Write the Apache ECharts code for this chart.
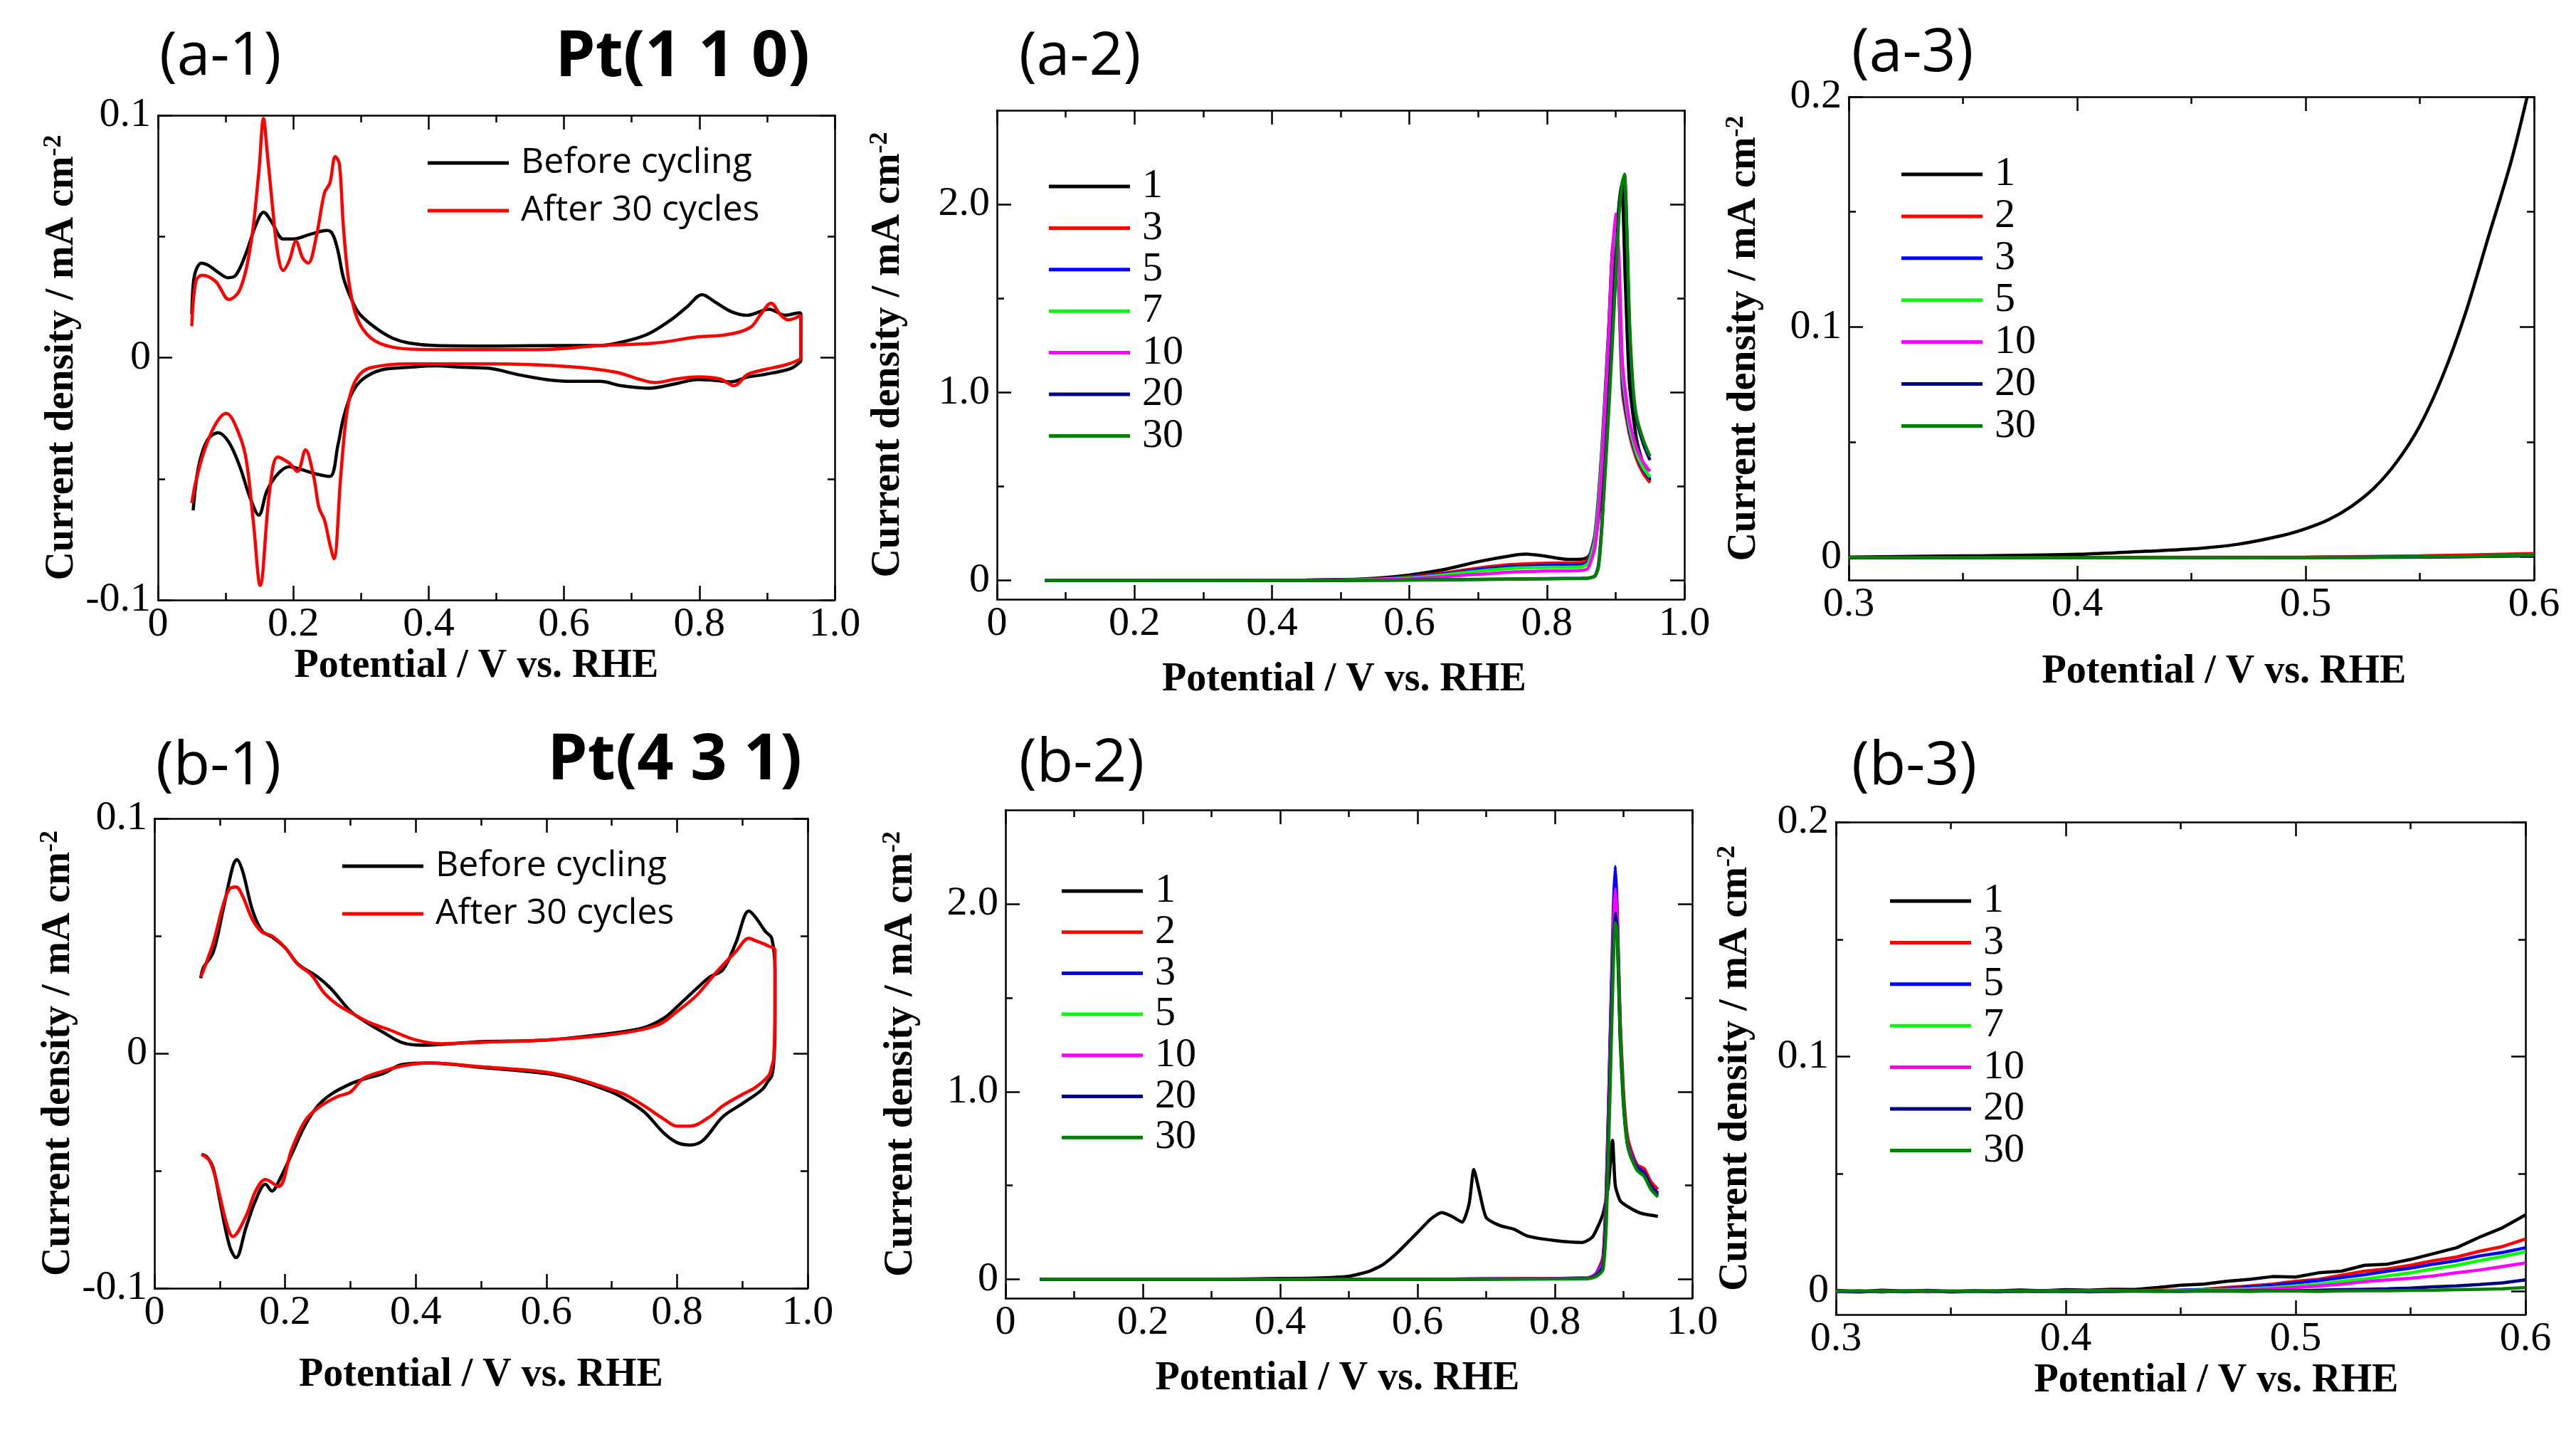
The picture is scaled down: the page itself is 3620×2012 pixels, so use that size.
<!DOCTYPE html>
<html>
<head>
<meta charset="utf-8">
<script src="https://cdn.jsdelivr.net/npm/echarts@6/dist/echarts.min.js"></script>
<style>
  html, body { margin: 0; padding: 0; background: #fff; }
  #chart { width: 3620px; height: 2012px; }
</style>
</head>
<body>
<div id="chart"></div>
<script>
// ---- (a-1) Pt(110) CV ----
var a1BeforeV = [0.05,0.052,0.056,0.064,0.075,0.09,0.103,0.115,0.13,0.145,0.156,0.168,0.185,0.2,0.226,0.25,0.258,0.266,0.274,0.286,0.298,0.323,0.347,0.371,0.41,0.5,0.6,0.653,0.694,0.726,0.758,0.782,0.804,0.823,0.847,0.871,0.903,0.927,0.948,0.95,
  0.95,0.948,0.935,0.895,0.871,0.847,0.823,0.798,0.766,0.726,0.685,0.653,0.613,0.573,0.532,0.492,0.452,0.41,0.371,0.331,0.302,0.286,0.274,0.266,0.254,0.234,0.21,0.194,0.177,0.161,0.149,0.137,0.121,0.105,0.089,0.073,0.06,0.052];
var a1BeforeJ = [0.018,0.03,0.036,0.039,0.038,0.035,0.033,0.034,0.043,0.055,0.060,0.056,0.049,0.049,0.051,0.0525,0.051,0.044,0.033,0.024,0.018,0.012,0.008,0.006,0.005,0.0048,0.005,0.005,0.007,0.010,0.0156,0.021,0.026,0.023,0.019,0.0175,0.020,0.0175,0.0185,0.018,
  -0.001,-0.002,-0.0045,-0.007,-0.008,-0.010,-0.0094,-0.009,-0.0107,-0.0126,-0.0116,-0.0098,-0.0098,-0.009,-0.007,-0.0045,-0.004,-0.0034,-0.004,-0.005,-0.009,-0.015,-0.025,-0.036,-0.049,-0.048,-0.046,-0.045,-0.048,-0.055,-0.065,-0.0585,-0.045,-0.035,-0.031,-0.034,-0.045,-0.063];
var a1AfterV = [0.05,0.056,0.065,0.085,0.105,0.121,0.137,0.149,0.156,0.161,0.169,0.177,0.185,0.194,0.204,0.214,0.222,0.234,0.246,0.254,0.262,0.268,0.274,0.282,0.294,0.315,0.347,0.395,0.5,0.573,0.653,0.734,0.798,0.839,0.875,0.891,0.906,0.919,0.931,0.95,
  0.95,0.944,0.927,0.895,0.871,0.851,0.831,0.798,0.766,0.734,0.71,0.677,0.613,0.492,0.371,0.315,0.298,0.286,0.278,0.27,0.26,0.254,0.246,0.238,0.23,0.218,0.206,0.194,0.177,0.165,0.151,0.141,0.129,0.113,0.101,0.085,0.069,0.056,0.05];
var a1AfterJ = [0.013,0.0315,0.034,0.0315,0.024,0.028,0.0465,0.0765,0.0987,0.086,0.063,0.043,0.036,0.040,0.048,0.041,0.039,0.050,0.068,0.072,0.083,0.080,0.054,0.0315,0.0165,0.008,0.0043,0.0034,0.0033,0.0034,0.005,0.006,0.0086,0.0094,0.0124,0.018,0.0225,0.018,0.0156,0.0175,
  0.0,-0.0013,-0.003,-0.005,-0.007,-0.0116,-0.0088,-0.0079,-0.0088,-0.0103,-0.0088,-0.006,-0.0038,-0.0026,-0.0026,-0.0041,-0.007,-0.0135,-0.025,-0.049,-0.083,-0.077,-0.067,-0.062,-0.049,-0.038,-0.047,-0.0435,-0.041,-0.055,-0.094,-0.068,-0.040,-0.027,-0.023,-0.0275,-0.038,-0.051,-0.060];

// ---- (a-2) Pt(110) cycles ----
var a2V1 = [0.07,0.3,0.45,0.5,0.55,0.6,0.65,0.7,0.75,0.77,0.8,0.83,0.85,0.86,0.87,0.88,0.89,0.9,0.905,0.909,0.914,0.92,0.93,0.94,0.95];
var a2J1 = [0,0,0.002,0.005,0.012,0.029,0.058,0.1,0.133,0.14,0.128,0.112,0.113,0.125,0.2,0.5,1.1,1.75,2.0,2.11,1.6,1.05,0.76,0.62,0.53];
var a2VEarly = [0.07,0.3,0.45,0.5,0.55,0.6,0.65,0.7,0.75,0.8,0.85,0.86,0.87,0.88,0.89,0.895,0.9,0.905,0.91,0.92,0.93,0.94,0.95];
var a2J3 = [0,0,0.001,0.003,0.008,0.02,0.04,0.066,0.085,0.092,0.095,0.11,0.25,0.7,1.35,1.75,1.88,1.5,1.0,0.78,0.65,0.57,0.52];
var a2J5 = [0,0,0.001,0.003,0.007,0.017,0.034,0.058,0.075,0.08,0.082,0.1,0.24,0.68,1.33,1.72,1.86,1.55,1.05,0.8,0.67,0.59,0.54];
var a2J7 = [0,0,0.001,0.002,0.006,0.014,0.03,0.05,0.065,0.07,0.072,0.09,0.22,0.65,1.3,1.7,1.85,1.6,1.1,0.82,0.68,0.6,0.55];
var a2J10 = [0,0,0,0.001,0.004,0.009,0.02,0.033,0.045,0.05,0.053,0.065,0.18,0.6,1.28,1.7,1.95,1.7,1.15,0.85,0.71,0.63,0.58];
var a2VLate = [0.07,0.3,0.45,0.5,0.6,0.7,0.8,0.85,0.86,0.87,0.875,0.88,0.89,0.9,0.905,0.91,0.913,0.917,0.92,0.925,0.93,0.94,0.95];
var a2J20 = [0,0,0,0,0.002,0.006,0.01,0.012,0.013,0.025,0.08,0.3,0.95,1.65,1.98,2.12,2.15,1.75,1.35,1.0,0.86,0.73,0.64];
var a2J30 = [0,0,0,0,0.002,0.005,0.009,0.011,0.012,0.022,0.07,0.28,0.9,1.6,1.95,2.12,2.16,1.8,1.4,1.05,0.88,0.75,0.66];

// ---- (a-3) Pt(110) low potential ----
var a3V1 = [0.3,0.35,0.4,0.43,0.45,0.47,0.49,0.5,0.51,0.52,0.53,0.54,0.55,0.56,0.57,0.58,0.59,0.597];
var a3J1 = [0,0.0005,0.0012,0.0025,0.0035,0.0055,0.0094,0.0123,0.0162,0.022,0.03,0.0415,0.057,0.0786,0.106,0.139,0.172,0.2];
var a3VOther = [0.3,0.4,0.5,0.55,0.6];
var a3J2 = [-0.0003,-0.0002,0,0.0005,0.0015];
var a3J3 = [-0.0003,-0.0003,-0.0002,0.0001,0.0008];
var a3J5 = [-0.0003,-0.0003,-0.0002,0,0.0008];
var a3J10 = [-0.0003,-0.0003,-0.0002,0,0.0006];
var a3J20 = [-0.0003,-0.0003,-0.0002,0,0.0006];
var a3J30 = [-0.0002,-0.0003,-0.0002,0.0001,0.0008];

// ---- (b-1) Pt(431) CV ----
var b1BeforeV = [0.071,0.075,0.09,0.105,0.12,0.126,0.135,0.15,0.165,0.18,0.2,0.22,0.25,0.27,0.3,0.32,0.35,0.38,0.41,0.45,0.5,0.6,0.7,0.75,0.78,0.8,0.83,0.85,0.87,0.89,0.91,0.92,0.935,0.945,0.95,
  0.95,0.948,0.945,0.94,0.93,0.9,0.87,0.84,0.82,0.8,0.78,0.75,0.72,0.7,0.65,0.6,0.5,0.42,0.38,0.35,0.32,0.3,0.27,0.25,0.23,0.21,0.19,0.18,0.17,0.155,0.14,0.125,0.115,0.1,0.09,0.08,0.072];
var b1BeforeJ = [0.032,0.0365,0.043,0.061,0.0796,0.0825,0.0776,0.061,0.052,0.0496,0.045,0.038,0.0325,0.0276,0.018,0.014,0.009,0.0045,0.0035,0.004,0.005,0.0057,0.0086,0.011,0.015,0.0198,0.0276,0.0325,0.0355,0.047,0.0606,0.058,0.052,0.049,0.035,
  0.01,-0.004,-0.0096,-0.0116,-0.0155,-0.0214,-0.027,-0.037,-0.039,-0.038,-0.034,-0.025,-0.0194,-0.0165,-0.0116,-0.0086,-0.006,-0.0041,-0.0047,-0.0086,-0.011,-0.013,-0.0175,-0.0224,-0.031,-0.043,-0.0547,-0.0586,-0.0557,-0.0625,-0.0743,-0.087,-0.082,-0.0625,-0.0488,-0.044,-0.043];
var b1AfterV = [0.071,0.09,0.105,0.115,0.125,0.135,0.15,0.165,0.18,0.2,0.22,0.24,0.26,0.28,0.3,0.33,0.36,0.4,0.44,0.5,0.6,0.7,0.77,0.8,0.83,0.86,0.89,0.91,0.92,0.94,0.95,
  0.95,0.948,0.945,0.94,0.92,0.9,0.87,0.85,0.82,0.8,0.78,0.75,0.72,0.7,0.65,0.6,0.5,0.42,0.38,0.35,0.32,0.3,0.28,0.25,0.23,0.21,0.19,0.17,0.155,0.14,0.12,0.11,0.095,0.085,0.072];
var b1AfterJ = [0.0325,0.047,0.063,0.070,0.0708,0.067,0.057,0.0516,0.050,0.045,0.0378,0.0335,0.0257,0.0208,0.0175,0.013,0.010,0.0057,0.0041,0.0047,0.0057,0.008,0.012,0.0178,0.0247,0.0345,0.0433,0.049,0.048,0.0457,0.044,
  0.02,-0.002,-0.0057,-0.0096,-0.0145,-0.0175,-0.0224,-0.027,-0.031,-0.031,-0.028,-0.0224,-0.0175,-0.0155,-0.011,-0.008,-0.0057,-0.0041,-0.0053,-0.0076,-0.0106,-0.0165,-0.0184,-0.0233,-0.029,-0.041,-0.0567,-0.0537,-0.0586,-0.0694,-0.078,-0.072,-0.0547,-0.046,-0.043];

// ---- (b-2) Pt(431) cycles ----
var b2V1 = [0.05,0.3,0.4,0.45,0.5,0.53,0.55,0.57,0.6,0.62,0.635,0.65,0.665,0.675,0.682,0.69,0.7,0.72,0.74,0.76,0.8,0.84,0.855,0.87,0.878,0.884,0.888,0.895,0.905,0.92,0.93,0.95];
var b2J1 = [0,0,0.005,0.007,0.017,0.044,0.08,0.14,0.25,0.324,0.356,0.336,0.305,0.4,0.585,0.47,0.33,0.287,0.268,0.231,0.207,0.197,0.227,0.348,0.5,0.74,0.5,0.42,0.39,0.36,0.348,0.336];
var b2VOther = [0.05,0.5,0.8,0.85,0.86,0.87,0.875,0.88,0.885,0.888,0.891,0.895,0.9,0.905,0.91,0.92,0.93,0.94,0.95];
var b2J2 = [0,0,0.005,0.01,0.03,0.12,0.5,1.2,1.85,2.05,1.9,1.4,1.0,0.78,0.7,0.61,0.59,0.52,0.48];
var b2J3 = [0,0,0.005,0.01,0.03,0.1,0.45,1.2,1.95,2.2,1.95,1.35,0.95,0.75,0.68,0.6,0.57,0.5,0.46];
var b2J5 = [0,0,0.003,0.008,0.02,0.08,0.4,1.1,1.75,1.93,1.8,1.3,0.92,0.73,0.66,0.58,0.55,0.48,0.44];
var b2J10 = [0,0,0.005,0.01,0.025,0.09,0.42,1.15,1.85,2.08,1.9,1.35,0.95,0.75,0.67,0.59,0.56,0.49,0.45];
var b2J20 = [0,0,0.003,0.006,0.02,0.07,0.38,1.05,1.75,1.95,1.85,1.3,0.94,0.74,0.66,0.59,0.56,0.49,0.45];
var b2J30 = [0,0,0.002,0.005,0.015,0.05,0.3,0.95,1.65,1.9,1.85,1.35,0.96,0.74,0.66,0.58,0.55,0.48,0.44];

// ---- (b-3) Pt(431) low potential ----
var b3V = [0.30,0.31,0.32,0.33,0.34,0.35,0.36,0.37,0.38,0.39,0.40,0.41,0.42,0.43,0.44,0.45,0.46,0.47,0.48,0.49,0.50,0.51,0.52,0.53,0.54,0.55,0.56,0.57,0.58,0.59,0.60];
var b3J1 = [0.0003,-0.0002,0.0004,0,0.0003,-0.0001,0.0002,0.0001,0.0005,0.0002,0.0006,0.0004,0.0008,0.0007,0.0015,0.0025,0.003,0.0042,0.005,0.0062,0.006,0.0078,0.0085,0.011,0.0115,0.0135,0.016,0.0185,0.023,0.027,0.0325];
var b3J3 = [-0.0003,0.0001,-0.0004,0.0002,-0.0003,0,-0.0002,0.0001,-0.0003,0.0002,0,-0.0002,0.0003,0.0001,0.0004,0.0003,0.0008,0.0015,0.0022,0.003,0.0042,0.005,0.0068,0.0085,0.0095,0.011,0.013,0.0145,0.017,0.019,0.0222];
var b3J5 = [-0.0002,-0.0004,0,-0.0003,0.0001,-0.0004,-0.0001,-0.0003,0,-0.0002,0.0001,-0.0003,0,0.0002,0.0001,0.0004,0.0006,0.001,0.0018,0.0025,0.0035,0.0045,0.0058,0.007,0.0085,0.0098,0.0115,0.013,0.015,0.0165,0.0185];
var b3J7 = [0,-0.0002,0.0001,-0.0001,0,-0.0002,0.0001,0,-0.0001,0.0001,0,0.0002,0,0.0001,0.0003,0.0002,0.0005,0.0007,0.001,0.0015,0.0022,0.003,0.0042,0.0052,0.0065,0.0078,0.0095,0.011,0.013,0.0148,0.0168];
var b3J10 = [-0.0001,0,-0.0002,0.0001,-0.0001,0,0.0001,-0.0001,0,0.0001,-0.0001,0,0.0001,0,0.0002,0.0001,0.0003,0.0004,0.0005,0.001,0.0015,0.0022,0.003,0.004,0.0048,0.0055,0.0065,0.0078,0.009,0.0105,0.012];
var b3J20 = [0,-0.0002,0,-0.0001,0.0001,-0.0002,0,-0.0001,0,0.0001,-0.0002,0,-0.0001,0.0001,0,-0.0001,0.0001,0,0.0001,0.0002,0.0002,0.0004,0.0006,0.0008,0.001,0.0013,0.0018,0.0022,0.0028,0.0035,0.0048];
var b3J30 = [0,0.0001,-0.0001,0,0.0001,0,-0.0001,0,0.0001,0,-0.0001,0.0001,0,0,-0.0001,0,0.0001,0,-0.0001,0.0001,0,-0.0001,0.0001,0.0002,0.0002,0.0003,0.0004,0.0006,0.0008,0.001,0.0015];

// tick values: labelled (major) and unlabelled (minor)
var xMajorWide = [0, 0.2, 0.4, 0.6, 0.8, 1.0];
var xMinorWide = [0.1, 0.3, 0.5, 0.7, 0.9];
var xMajorNarrow = [0.3, 0.4, 0.5, 0.6];
var xMinorNarrow = [0.35, 0.45, 0.55];
var yCvMajor = [-0.1, 0, 0.1];
var yCvMinor = [-0.05, 0.05];
var yOrrMajor = [0, 1, 2];
var yOrrMinor = [0.5, 1.5];
var yLowMajor = [0, 0.1, 0.2];
var yLowMinor = [0.05, 0.15];

var BLACK = '#000000', RED = '#ff0000', BLUE = '#0000ff', LIME = '#00ff00',
    MAGENTA = '#ff00ff', NAVY = '#000080', GREEN = '#008000';

function pairs(xs, ys) { return xs.map(function (x, i) { return [x, ys[i]]; }); }
function fmt(v) { return v === 0 ? '0' : v.toFixed(1); }

var SERIF = "'Liberation Serif', 'Times New Roman', serif";
var SANS = "'Open Sans', 'Noto Sans', sans-serif";
var YNAME = '{a|Current density / mA cm}{s|-2}';
var XNAME = 'Potential / V vs. RHE';
var LABEL_SIZE = 58;

var panels = [
  { id: 'a1', grid: [222, 162, 951, 681], x: [0, 1, xMajorWide, xMinorWide], y: [-0.1, 0.1, yCvMajor, yCvMinor],
    xGap: 66, xPad: [0, 56, 0, 0], yGap: 104, smooth: 0.35,
    legend: { left: 596, top: 196, font: SANS, size: 50, lh: 56, gap: 11 },
    series: [['Before cycling', a1BeforeV, a1BeforeJ, BLACK], ['After 30 cycles', a1AfterV, a1AfterJ, RED]] },
  { id: 'a2', grid: [1401, 155, 966, 687], x: [0, 1, xMajorWide, xMinorWide], y: [-0.1, 2.5, yOrrMajor, yOrrMinor],
    xGap: 86, xPad: [0, 0, 0, 10], yGap: 122, smooth: 0.2,
    legend: { left: 1469, top: 228, font: SERIF, size: 58, lh: 58, gap: 0.4 },
    series: [['1', a2V1, a2J1, BLACK], ['3', a2VEarly, a2J3, RED], ['5', a2VEarly, a2J5, BLUE], ['7', a2VEarly, a2J7, LIME],
             ['10', a2VEarly, a2J10, MAGENTA], ['20', a2VLate, a2J20, NAVY], ['30', a2VLate, a2J30, GREEN]] },
  { id: 'a3', grid: [2598, 136, 963, 679], x: [0.3, 0.6, xMajorNarrow, xMinorNarrow], y: [-0.01, 0.2, yLowMajor, yLowMinor],
    xGap: 102, xPad: [0, 0, 0, 92], yGap: 116, smooth: 0.3,
    legend: { left: 2667, top: 211, font: SERIF, size: 58, lh: 58, gap: 0.9 },
    series: [['1', a3V1, a3J1, BLACK], ['2', a3VOther, a3J2, RED], ['3', a3VOther, a3J3, BLUE], ['5', a3VOther, a3J5, LIME],
             ['10', a3VOther, a3J10, MAGENTA], ['20', a3VOther, a3J20, NAVY], ['30', a3VOther, a3J30, GREEN]] },
  { id: 'b1', grid: [217, 1150, 918, 660], x: [0, 1, xMajorWide, xMinorWide], y: [-0.1, 0.1, yCvMajor, yCvMinor],
    xGap: 95, xPad: [0, 0, 0, 0], yGap: 104, smooth: 0.35,
    legend: { left: 476, top: 1184, font: SANS, size: 50, lh: 56, gap: 11 },
    series: [['Before cycling', b1BeforeV, b1BeforeJ, BLACK], ['After 30 cycles', b1AfterV, b1AfterJ, RED]] },
  { id: 'b2', grid: [1413, 1138, 965, 686], x: [0, 1, xMajorWide, xMinorWide], y: [-0.1, 2.5, yOrrMajor, yOrrMinor],
    xGap: 86, xPad: [0, 32, 0, 0], yGap: 116, smooth: 0.2,
    legend: { left: 1487, top: 1218, font: SERIF, size: 58, lh: 58, gap: -0.3 },
    series: [['1', b2V1, b2J1, BLACK], ['2', b2VOther, b2J2, RED], ['3', b2VOther, b2J3, BLUE], ['5', b2VOther, b2J5, LIME],
             ['10', b2VOther, b2J10, MAGENTA], ['20', b2VOther, b2J20, NAVY], ['30', b2VOther, b2J30, GREEN]] },
  { id: 'b3', grid: [2580, 1155, 969, 692], x: [0.3, 0.6, xMajorNarrow, xMinorNarrow], y: [-0.01, 0.2, yLowMajor, yLowMinor],
    xGap: 66, xPad: [0, 0, 0, 100], yGap: 110, smooth: false,
    legend: { left: 2651, top: 1232, font: SERIF, size: 58, lh: 58, gap: 0.4 },
    series: [['1', b3V, b3J1, BLACK], ['3', b3V, b3J3, RED], ['5', b3V, b3J5, BLUE], ['7', b3V, b3J7, LIME],
             ['10', b3V, b3J10, MAGENTA], ['20', b3V, b3J20, NAVY], ['30', b3V, b3J30, GREEN]] }
];

var lineOn = { show: true, onZero: false, lineStyle: { color: '#000', width: 2.5 } };
var lineOff = { show: false, onZero: false };

// one axis per side and tick kind; the first bottom / left axis carries labels and the axis name
function axis(kind, gi, min, max, pos, ticks, len, line) {
  return { type: 'value', gridIndex: gi, min: min, max: max, position: pos,
    axisLine: line ? lineOn : lineOff, splitLine: { show: false }, axisLabel: { show: false },
    axisTick: { inside: true, length: len, customValues: ticks, lineStyle: { color: '#000', width: 2.5 } } };
}

var option = { animation: false, backgroundColor: '#fff', grid: [], xAxis: [], yAxis: [], series: [], legend: [], graphic: [] };

panels.forEach(function (p, gi) {
  option.grid.push({ left: p.grid[0], top: p.grid[1], width: p.grid[2], height: p.grid[3], containLabel: false });

  var xb = axis('x', gi, p.x[0], p.x[1], 'bottom', p.x[2], 20, true);
  xb.axisLabel = { show: true, customValues: p.x[2], formatter: fmt, margin: 6, color: '#000', fontFamily: SERIF, fontSize: LABEL_SIZE };
  xb.name = XNAME; xb.nameLocation = 'middle'; xb.nameGap = p.xGap;
  xb.nameTextStyle = { color: '#000', fontFamily: SERIF, fontWeight: 'bold', fontSize: 56, padding: p.xPad };
  option.xAxis.push(xb,
    axis('x', gi, p.x[0], p.x[1], 'bottom', p.x[3], 10, false),
    axis('x', gi, p.x[0], p.x[1], 'top', p.x[2], 20, true),
    axis('x', gi, p.x[0], p.x[1], 'top', p.x[3], 10, false));

  var yl = axis('y', gi, p.y[0], p.y[1], 'left', p.y[2], 20, true);
  yl.axisLabel = { show: true, customValues: p.y[2], formatter: fmt, margin: 10, color: '#000', fontFamily: SERIF, fontSize: LABEL_SIZE };
  yl.name = YNAME; yl.nameLocation = 'middle'; yl.nameGap = p.yGap; yl.nameRotate = 90;
  yl.nameTextStyle = { rich: {
    a: { color: '#000', fontFamily: SERIF, fontWeight: 'bold', fontSize: 56, lineHeight: 60 },
    s: { color: '#000', fontFamily: SERIF, fontWeight: 'bold', fontSize: 36, verticalAlign: 'top', lineHeight: 60 } } };
  option.yAxis.push(yl,
    axis('y', gi, p.y[0], p.y[1], 'left', p.y[3], 10, false),
    axis('y', gi, p.y[0], p.y[1], 'right', p.y[2], 20, true),
    axis('y', gi, p.y[0], p.y[1], 'right', p.y[3], 10, false));

  var names = [];
  p.series.forEach(function (s) {
    var nm = p.id + '|' + s[0];
    names.push(nm);
    option.series.push({
      name: nm, type: 'line', xAxisIndex: gi * 4, yAxisIndex: gi * 4,
      data: pairs(s[1], s[2]), showSymbol: false, smooth: p.smooth,
      lineStyle: { color: s[3], width: 4.5 }, itemStyle: { color: s[3] }, z: 3
    });
  });
  option.legend.push({
    data: names, orient: 'vertical', left: p.legend.left, top: p.legend.top,
    icon: 'rect', itemWidth: 114, itemHeight: 5, itemGap: p.legend.gap, selectedMode: false,
    formatter: function (n) { return n.split('|')[1]; },
    textStyle: { color: '#000', fontFamily: p.legend.font, fontSize: p.legend.size, lineHeight: p.legend.lh, padding: [0, 0, 0, 12] }
  });
});

function title(x, y, text, bold, size, align) {
  return { type: 'text', x: x, y: y, style: { text: text, fill: '#000', align: align || 'left', verticalAlign: 'middle',
    font: (bold ? 'bold ' : '') + size + 'px ' + SANS } };
}
option.graphic = [
  title(224, 81, '(a-1)', false, 84),
  title(1138, 81, 'Pt(1 1 0)', true, 90, 'right'),
  title(1432, 81, '(a-2)', false, 84),
  title(2602, 76, '(a-3)', false, 84),
  title(219, 1078, '(b-1)', false, 84),
  title(1127, 1069, 'Pt(4 3 1)', true, 90, 'right'),
  title(1432, 1074, '(b-2)', false, 84),
  title(2602, 1078, '(b-3)', false, 84)
];

var chart = echarts.init(document.getElementById('chart'), null, { renderer: 'canvas' });
chart.setOption(option);
</script>
</body>
</html>
